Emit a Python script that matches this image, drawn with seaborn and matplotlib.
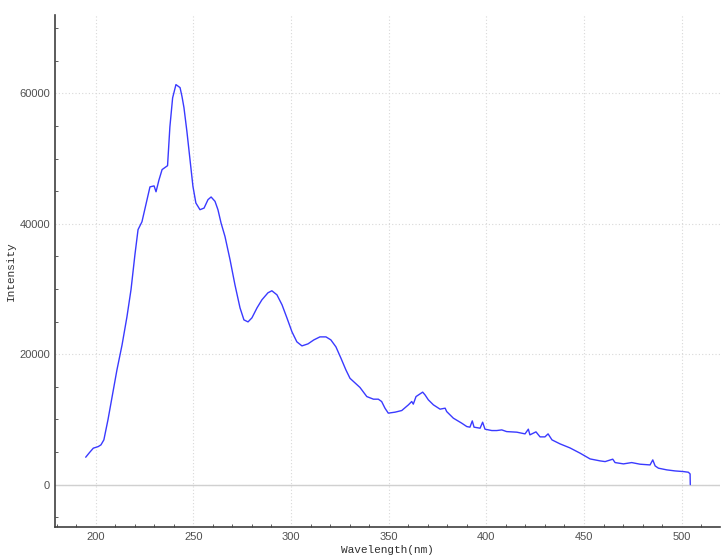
import numpy as np
import pandas as pd
import matplotlib
matplotlib.use("Agg")
import matplotlib.pyplot as plt
from matplotlib.ticker import MultipleLocator
import seaborn as sns

# spectrum
wavelength = [194.9, 196.8, 198.8, 201.3, 202.7, 204.2, 206.3, 208.3, 210.9, 213.5,
              216.0, 218.1, 220.1, 221.7, 223.7, 226.3, 227.8, 229.9, 230.9, 232.4,
              234.0, 236.8, 238.0, 239.4, 241.1, 243.2, 244.2, 245.2, 246.7, 248.3,
              249.8, 251.3, 253.4, 255.5, 257.5, 259.1, 261.1, 262.6, 264.2, 266.2,
              268.8, 271.3, 273.9, 275.9, 278.0, 280.0, 282.6, 285.1, 288.2, 290.2,
              292.8, 295.4, 297.9, 300.5, 303.0, 305.6, 308.7, 311.7, 314.8, 317.9,
              320.4, 323.0, 325.5, 328.1, 330.2, 335.3, 338.8, 342.2, 344.7, 346.4,
              348.1, 349.8, 353.3, 356.7, 360.1, 361.8, 362.6, 364.0, 366.1, 367.4,
              368.6, 370.3, 372.9, 376.3, 378.9, 379.7, 383.1, 387.4, 390.0, 391.6,
              392.8, 393.7, 396.8, 398.1, 399.3, 402.8, 405.3, 407.9, 410.4, 415.6,
              419.8, 421.5, 422.3, 425.4, 427.5, 430.0, 431.6, 433.6, 437.7, 442.8,
              448.0, 453.1, 458.2, 460.8, 464.7, 465.9, 470.2, 474.4, 478.7, 483.8,
              485.2, 486.4, 488.1, 492.4, 496.6, 500.9, 503.4, 504.3, 504.4]
intensity = [4200, 4900, 5590, 5830, 6090, 6860, 9940, 13300, 17600, 21400,
             25700, 29900, 35250, 39100, 40300, 43650, 45650, 45800, 44900, 46700,
             48300, 48900, 54860, 59300, 61330, 60870, 59500, 57800, 54170, 49800,
             45730, 43180, 42150, 42400, 43690, 44100, 43430, 42150, 40100, 38050,
             34470, 30640, 27100, 25260, 24950, 25570, 27100, 28330, 29410, 29720,
             29100, 27570, 25570, 23420, 21890, 21270, 21580, 22190, 22650, 22650,
             22190, 21120, 19430, 17590, 16300, 14900, 13500, 13100, 13100, 12740,
             11720, 10960, 11110, 11360, 12230, 12740, 12340, 13500, 13920, 14180,
             13760, 13000, 12230, 11570, 11720, 11200, 10190, 9420, 8900, 8810,
             9770, 8810, 8650, 9570, 8500, 8290, 8290, 8390, 8130, 8040,
             7780, 8500, 7630, 8090, 7320, 7320, 7780, 6860, 6250, 5630,
             4820, 3940, 3640, 3530, 3900, 3380, 3180, 3380, 3130, 3020,
             3790, 2870, 2520, 2260, 2100, 2000, 1900, 1640, 0]

df = pd.DataFrame({"Wavelength": wavelength, "Intensity": intensity})

sns.set_style("white")
plt.rcParams["font.family"] = ["Liberation Sans", "DejaVu Sans"]

fig = plt.figure(figsize=(7.26, 5.6), dpi=100)
ax = fig.add_axes([0.0758, 0.0589, 0.9159, 0.9143])

sns.lineplot(data=df, x="Wavelength", y="Intensity", ax=ax, color="#3a3aff",
             linewidth=1.0, sort=False, estimator=None, zorder=3)

ax.set_xlim(179.2, 519.6)
ax.set_ylim(-6500, 72000)
ax.xaxis.set_major_locator(MultipleLocator(50))
ax.xaxis.set_minor_locator(MultipleLocator(10))
ax.yaxis.set_major_locator(MultipleLocator(20000))
ax.yaxis.set_minor_locator(MultipleLocator(5000))

ax.grid(True, which="major", linestyle=(0, (1, 2)), color="#d8d8d8", linewidth=0.8)
ax.axhline(0, color="#d0d0d0", linewidth=1.0, zorder=1)

for s in ["top", "right"]:
    ax.spines[s].set_visible(False)
for s in ["left", "bottom"]:
    ax.spines[s].set_color("#404040")
    ax.spines[s].set_linewidth(1.2)

ax.tick_params(which="both", direction="in", colors="#404040", labelcolor="#505050",
               labelsize=8)
ax.tick_params(which="major", length=4)
ax.tick_params(which="minor", length=2.5, left=True, bottom=True)

ax.set_xlabel("Wavelength(nm)", family=["Liberation Mono", "DejaVu Sans Mono"],
              fontsize=8, color="#303030", labelpad=2)
ax.set_ylabel("Intensity", family=["Liberation Mono", "DejaVu Sans Mono"],
              fontsize=8, color="#303030")
ax.yaxis.set_label_coords(-0.0586, 0.5)

fig.savefig("out.png", dpi=100)
